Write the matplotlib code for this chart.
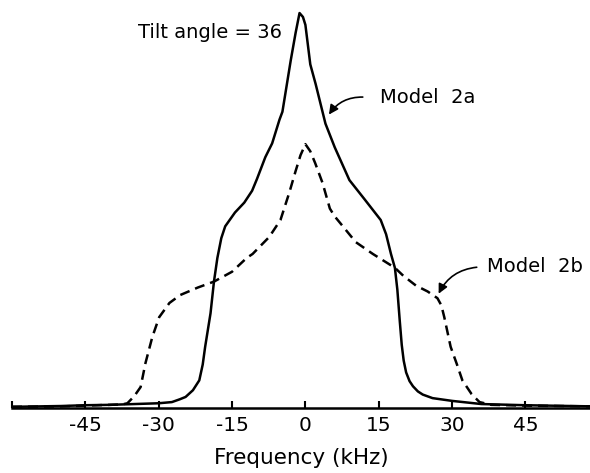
import matplotlib
matplotlib.use("Agg")
import matplotlib.pyplot as plt

plt.rcParams['font.family'] = ['DejaVu Sans']
plt.rcParams['axes.unicode_minus'] = False

# Model 2a (solid), normalised intensity vs frequency in kHz
freq_2a = [-60, -50, -45, -40, -35, -30, -27.3, -25.7, -24.5, -23, -21.7, -21, -20.5,
           -19.4, -18.7, -18, -17.2, -16.4, -14.4, -12.5, -10.9, -9.9, -8.2, -6.8,
           -5.3, -4.7, -3, -2, -1.2, -0.5, 0, 1, 2.1, 4.1, 6, 9, 12, 15.4, 16.5, 17.5,
           18.3, 18.8, 19.3, 19.7, 20.1, 20.6, 21.3, 22, 23, 24, 26, 30, 36, 45, 59]
amp_2a = [0.003, 0.005, 0.007, 0.008, 0.010, 0.012, 0.015, 0.022, 0.028, 0.045, 0.07, 0.11, 0.155,
          0.24, 0.32, 0.38, 0.43, 0.46, 0.495, 0.52, 0.55, 0.58, 0.635, 0.67,
          0.73, 0.75, 0.88, 0.95, 1.0, 0.99, 0.97, 0.87, 0.82, 0.72, 0.66, 0.577, 0.53, 0.476, 0.44, 0.39,
          0.355, 0.30, 0.22, 0.16, 0.12, 0.09, 0.068, 0.055, 0.042, 0.034, 0.025, 0.018, 0.010, 0.007, 0.004]

# Model 2b (dashed)
freq_2b = [-60, -50, -45, -40, -37.5, -36.4, -35, -33.7, -32.7, -31.3, -29.9, -27.8, -25.6,
           -22, -18.7, -15, -12, -10.8, -7.4, -5.1, -3.3, -2, -1, 0, 1, 2, 3.5, 5, 6, 7,
           10.3, 13.8, 18.3, 20, 22.6, 25, 27, 27.8, 28.4, 29.7, 31, 32.1, 34, 35.6, 38, 45, 59]
amp_2b = [0.003, 0.004, 0.006, 0.008, 0.009, 0.012, 0.03, 0.053, 0.114, 0.18, 0.23, 0.266, 0.286,
          0.305, 0.32, 0.345, 0.38, 0.39, 0.433, 0.476, 0.545, 0.60, 0.64, 0.668, 0.65, 0.62, 0.57, 0.505,
          0.485, 0.47, 0.42, 0.39, 0.355, 0.335, 0.31, 0.295, 0.278, 0.26, 0.23, 0.155, 0.11, 0.07, 0.035,
          0.015, 0.008, 0.006, 0.004]

tick_pos = [-45, -30, -15, 0, 15, 30, 45]
tick_lab = ['-45', '-30', '-15', '0', '15', '30', '45']

fig = plt.figure(figsize=(5.9, 4.73), dpi=100)
ax = fig.add_axes([12 / 590, 65 / 473, 578 / 590, 408 / 473])

ax.plot(freq_2a, amp_2a, color='black', lw=1.8, solid_capstyle='round')
ax.plot(freq_2b, amp_2b, color='black', lw=1.8, linestyle=(0, (4, 2.4)))

ax.set_xlim(-60, 58.2)
ax.set_ylim(0, 1.033)

for s in ['left', 'top', 'right']:
    ax.spines[s].set_visible(False)
ax.spines['bottom'].set_linewidth(1.8)
ax.set_yticks([])
ax.set_xticks(tick_pos)
ax.set_xticklabels(tick_lab, fontsize=14.5)
ax.set_xticks([-60], minor=True)
ax.tick_params(axis='x', which='both', direction='in', length=5, width=1.5, pad=6)
ax.set_xlabel('Frequency (kHz)', fontsize=15.5, labelpad=9)

ax.text(-34.2, 0.95, 'Tilt angle = 36', fontsize=14, va='center', ha='left')
ax.text(15.3, 0.785, 'Model  2a', fontsize=14, va='center', ha='left')
ax.text(37.2, 0.357, 'Model  2b', fontsize=14, va='center', ha='left')

ax.annotate('', xy=(4.5, 0.737), xytext=(12.3, 0.787),
            arrowprops=dict(arrowstyle='-|>', color='black', lw=1.2,
                            mutation_scale=14, connectionstyle='arc3,rad=0.3'))
ax.annotate('', xy=(27.0, 0.283), xytext=(35.6, 0.357),
            arrowprops=dict(arrowstyle='-|>', color='black', lw=1.2,
                            mutation_scale=14, connectionstyle='arc3,rad=0.3'))

fig.savefig('out.png', dpi=100)
